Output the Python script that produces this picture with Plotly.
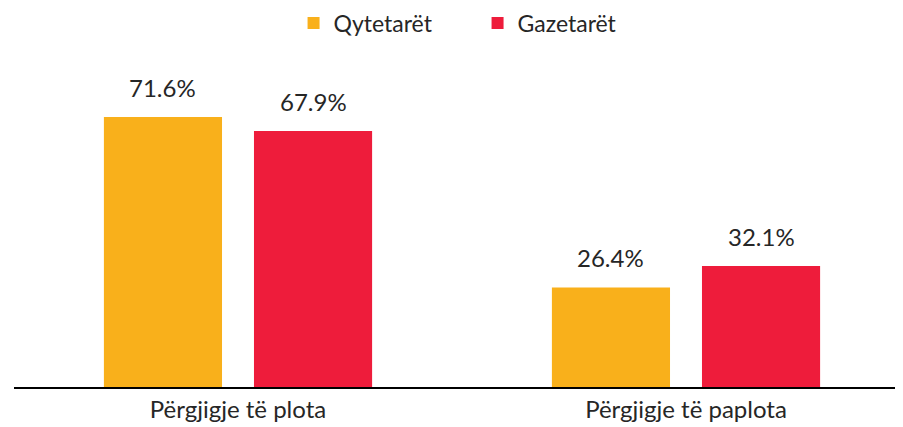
import plotly.graph_objects as go

categories = ["Përgjigje të plota", "Përgjigje të paplota"]
qytetaret = [71.6, 26.4]
gazetaret = [67.9, 32.1]
series_names = ["Qytetarët", "Gazetarët"]

color_q = "#F9B01B"
color_g = "#EE1C3B"
font_family = "Lato, 'Open Sans', sans-serif"
bargap = 0.33

fig = go.Figure()
for name, values, color in [
    (series_names[0], qytetaret, color_q),
    (series_names[1], gazetaret, color_g),
]:
    fig.add_trace(
        go.Bar(
            x=categories,
            y=values,
            name=name,
            marker=dict(color=color, line=dict(width=0)),
        )
    )

# value labels above the bars, offset to each bar slot within the group
slot = (1 - bargap) / 2
for k, values in enumerate([qytetaret, gazetaret]):
    offset = -slot / 2 if k == 0 else slot / 2
    for i, v in enumerate(values):
        fig.add_annotation(
            x=i + offset,
            y=v,
            text=f"{v:.1f}%",
            showarrow=False,
            yanchor="bottom",
            yshift=13,
            font=dict(size=24, color="#262626"),
        )

fig.update_layout(
    width=903,
    height=427,
    margin=dict(l=6, r=1, t=52, b=48, autoexpand=False),
    paper_bgcolor="white",
    plot_bgcolor="white",
    barmode="group",
    bargap=bargap,
    bargroupgap=0.213,
    font=dict(family=font_family, size=24, color="#262626"),
    legend=dict(
        orientation="h",
        x=0.52,
        xanchor="center",
        xref="container",
        y=0.965,
        yanchor="middle",
        yref="container",
        font=dict(size=23),
        itemwidth=30,
        entrywidth=139,
    ),
    xaxis=dict(
        showline=True,
        linecolor="#000000",
        linewidth=2,
        ticks="",
        showgrid=False,
        tickfont=dict(size=24),
        automargin=False,
    ),
    yaxis=dict(
        range=[0, 86.7],
        visible=False,
        showgrid=False,
        zeroline=False,
    ),
)

fig.write_html("out.html")
